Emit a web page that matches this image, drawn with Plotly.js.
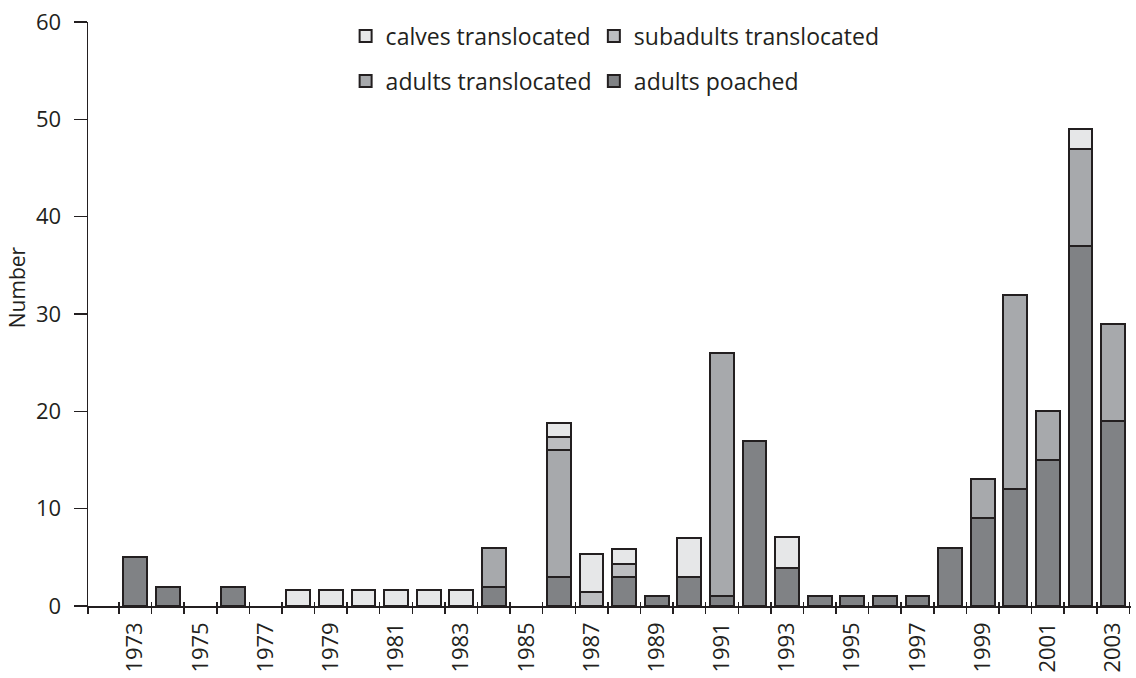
<!DOCTYPE html>
<html>
<head>
<meta charset="utf-8">
<script src="https://cdn.plot.ly/plotly-3.0.1.min.js"></script>
<style>
  html, body { margin: 0; padding: 0; background: #ffffff; }
  #chart { width: 1136px; height: 678px; }
</style>
</head>
<body>
<div id="chart"></div>
<script>
// ---- data ----
const years = [1973,1974,1975,1976,1977,1978,1979,1980,1981,1982,1983,1984,1985,1986,1987,1988,
               1989,1990,1991,1992,1993,1994,1995,1996,1997,1998,1999,2000,2001,2002,2003];
const adultsPoached = [5,2,null,2,null,null,null,null,null,null,null,2,null,3,null,3,
                       1,3,1,17,3.9,1,1,1,1,6,9,12,15,37,19];
const adultsTranslocated = [null,null,null,null,null,null,null,null,null,null,null,4,null,13,null,null,
                            null,null,25,null,null,null,null,null,null,null,4,20,5,10,10];
const subadultsTranslocated = [null,null,null,null,null,null,null,null,null,null,null,null,null,1.35,1.4,1.3,
                               null,null,null,null,null,null,null,null,null,null,null,null,null,null,null];
const calvesTranslocated = [null,null,null,null,null,1.67,1.67,1.67,1.67,1.67,1.67,null,null,1.45,3.95,1.57,
                            null,4,null,null,3.2,null,null,null,null,null,null,null,null,2,null];
const tickYears = years.filter(y => y % 2 === 1);
const tickText = tickYears.map(String);
const yTicks = [0,10,20,30,40,50,60];

// ---- styling ----
const ink = '#231f20';
const font = 'Open Sans, Liberation Sans, Arial, sans-serif';
const xRange = [years[0] - 1.45, years[years.length - 1] + 0.55];
const boundaries = [xRange[0]].concat(years.map(y => y - 0.5), [years[years.length - 1] + 0.5]);

function barTrace(name, values, color, legend) {
  return {
    type: 'bar', name: name, x: years, y: values, width: 0.73,
    marker: { color: color, line: { color: ink, width: 2 } },
    legend: legend, hoverinfo: 'x+y+name'
  };
}

const traces = [
  barTrace('adults poached', adultsPoached, '#808285', 'legend4'),
  barTrace('adults translocated', adultsTranslocated, '#a7a9ac', 'legend3'),
  barTrace('subadults translocated', subadultsTranslocated, '#bcbdc0', 'legend2'),
  barTrace('calves translocated', calvesTranslocated, '#e6e7e8', 'legend'),
  { type: 'scatter', x: [], y: [], xaxis: 'x2', showlegend: false, hoverinfo: 'skip' },
  { type: 'scatter', x: [], y: [], xaxis: 'x3', showlegend: false, hoverinfo: 'skip' }
];

function legendAt(x, y) {
  return {
    orientation: 'h', xanchor: 'left', yanchor: 'middle', x: x, y: y,
    font: { family: font, size: 23, color: ink },
    bgcolor: 'rgba(0,0,0,0)', borderwidth: 0
  };
}

const layout = {
  width: 1136, height: 678,
  margin: { l: 88, r: 5, t: 22, b: 72, pad: 0 },
  paper_bgcolor: '#ffffff', plot_bgcolor: '#ffffff',
  barmode: 'stack', bargap: 0,
  font: { family: font, size: 22, color: ink },
  showlegend: true,
  legend: legendAt(0.247, 0.976),
  legend2: legendAt(0.485, 0.976),
  legend3: legendAt(0.247, 0.899),
  legend4: legendAt(0.485, 0.899),
  xaxis: {
    range: xRange, showgrid: false, zeroline: false,
    showline: true, linecolor: ink, linewidth: 1.5,
    tickmode: 'array', tickvals: tickYears, ticktext: tickText,
    ticks: '', tickangle: -90, ticklabelstandoff: 6,
    tickfont: { family: font, size: 22, color: ink }
  },
  xaxis2: {
    overlaying: 'x', anchor: 'y', side: 'bottom', range: xRange,
    showgrid: false, zeroline: false, showline: false, showticklabels: false,
    tickmode: 'array', tickvals: boundaries,
    ticks: 'outside', ticklen: 7, tickwidth: 1.5, tickcolor: ink
  },
  xaxis3: {
    overlaying: 'x', anchor: 'y', side: 'bottom', range: xRange,
    showgrid: false, zeroline: false, showline: false, showticklabels: false,
    tickmode: 'array', tickvals: boundaries,
    ticks: 'inside', ticklen: 4, tickwidth: 1.5, tickcolor: ink
  },
  yaxis: {
    range: [0, 60], showgrid: false, zeroline: false,
    showline: true, linecolor: ink, linewidth: 1.5,
    tickmode: 'array', tickvals: yTicks,
    ticks: 'outside', ticklen: 13, tickwidth: 1.5, tickcolor: ink,
    ticklabelstandoff: 8,
    tickfont: { family: font, size: 22, color: ink }
  },
  annotations: [{
    text: 'Number', xref: 'paper', yref: 'paper', x: -0.068, y: 0.546,
    xanchor: 'center', yanchor: 'middle', textangle: -90, showarrow: false,
    font: { family: font, size: 21, color: ink }
  }]
};

Plotly.newPlot('chart', traces, layout, { displayModeBar: false, staticPlot: true });
</script>
</body>
</html>
